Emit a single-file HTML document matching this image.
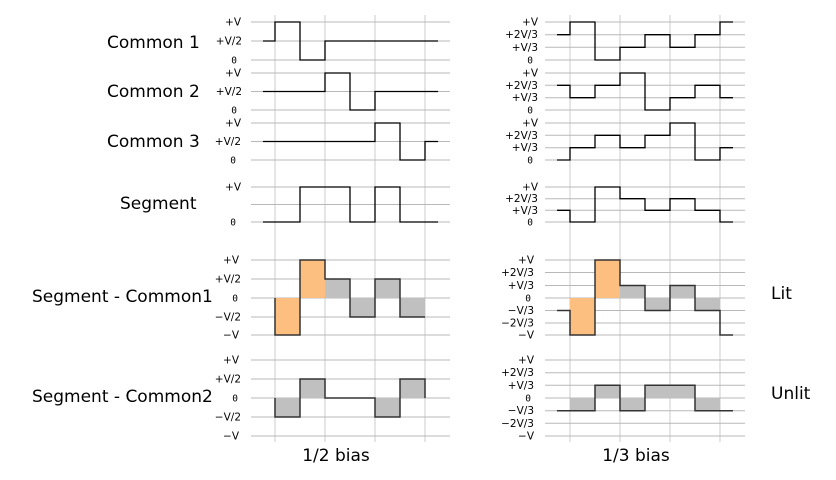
<!DOCTYPE html>
<html><head><meta charset="utf-8"><style>
html,body{margin:0;padding:0;background:#fff;}
svg{display:block;}
.t{font-family:"DejaVu Sans","Liberation Sans",sans-serif;font-size:10.5px;fill:#000;text-anchor:end;}
.z{font-family:"DejaVu Sans Mono","Liberation Mono",monospace;font-size:9.5px;fill:#000;text-anchor:end;}
.big{font-family:"DejaVu Sans","Liberation Sans",sans-serif;font-size:17px;fill:#000;}
.h{stroke:#b8b8b8;stroke-width:1;}
.v{stroke:#d4d4d4;stroke-width:1.2;}
.w{fill:none;stroke:#000;stroke-width:1.3;}
.w2{fill:none;stroke:#333;stroke-width:1.5;}
.o{fill:#fdbf80;}
.g{fill:#c0c0c0;}
</style></head><body>
<svg width="836" height="480" viewBox="0 0 836 480" xmlns="http://www.w3.org/2000/svg">
<g class="v">
<line x1="275" y1="15" x2="275" y2="442"/><line x1="325" y1="15" x2="325" y2="442"/>
<line x1="375" y1="15" x2="375" y2="442"/><line x1="425" y1="15" x2="425" y2="442"/>
<line x1="570" y1="15" x2="570" y2="442"/><line x1="620" y1="15" x2="620" y2="442"/>
<line x1="670" y1="15" x2="670" y2="442"/><line x1="720" y1="15" x2="720" y2="442"/>
</g>
<g class="h">
<line x1="251" x2="450" y1="22" y2="22"/><line x1="251" x2="450" y1="41" y2="41"/><line x1="251" x2="450" y1="60" y2="60"/>
<line x1="251" x2="450" y1="73" y2="73"/><line x1="251" x2="450" y1="91.5" y2="91.5"/><line x1="251" x2="450" y1="110" y2="110"/>
<line x1="251" x2="450" y1="123" y2="123"/><line x1="251" x2="450" y1="141.5" y2="141.5"/><line x1="251" x2="450" y1="160" y2="160"/>
<line x1="251" x2="450" y1="187" y2="187"/><line x1="251" x2="450" y1="204.5" y2="204.5"/><line x1="251" x2="450" y1="222" y2="222"/>
<line x1="251" x2="450" y1="260" y2="260"/><line x1="251" x2="450" y1="279" y2="279"/><line x1="251" x2="450" y1="298" y2="298"/><line x1="251" x2="450" y1="317" y2="317"/><line x1="251" x2="450" y1="335" y2="335"/>
<line x1="251" x2="450" y1="360" y2="360"/><line x1="251" x2="450" y1="379" y2="379"/><line x1="251" x2="450" y1="398" y2="398"/><line x1="251" x2="450" y1="417" y2="417"/><line x1="251" x2="450" y1="436" y2="436"/>
<line x1="545" x2="745" y1="22" y2="22"/><line x1="545" x2="745" y1="34.7" y2="34.7"/><line x1="545" x2="745" y1="47.3" y2="47.3"/><line x1="545" x2="745" y1="60" y2="60"/>
<line x1="545" x2="745" y1="73" y2="73"/><line x1="545" x2="745" y1="85.3" y2="85.3"/><line x1="545" x2="745" y1="97.7" y2="97.7"/><line x1="545" x2="745" y1="110" y2="110"/>
<line x1="545" x2="745" y1="123" y2="123"/><line x1="545" x2="745" y1="135.3" y2="135.3"/><line x1="545" x2="745" y1="147.7" y2="147.7"/><line x1="545" x2="745" y1="160" y2="160"/>
<line x1="545" x2="745" y1="187" y2="187"/><line x1="545" x2="745" y1="198.7" y2="198.7"/><line x1="545" x2="745" y1="210.3" y2="210.3"/><line x1="545" x2="745" y1="222" y2="222"/>
<line x1="545" x2="745" y1="260" y2="260"/><line x1="545" x2="745" y1="272.5" y2="272.5"/><line x1="545" x2="745" y1="285.5" y2="285.5"/><line x1="545" x2="745" y1="298" y2="298"/><line x1="545" x2="745" y1="310.5" y2="310.5"/><line x1="545" x2="745" y1="323" y2="323"/><line x1="545" x2="745" y1="335" y2="335"/>
<line x1="545" x2="745" y1="360" y2="360"/><line x1="545" x2="745" y1="372.7" y2="372.7"/><line x1="545" x2="745" y1="385.3" y2="385.3"/><line x1="545" x2="745" y1="398" y2="398"/><line x1="545" x2="745" y1="410.7" y2="410.7"/><line x1="545" x2="745" y1="423.3" y2="423.3"/><line x1="545" x2="745" y1="436" y2="436"/>
</g>
<rect class="o" x="275" y="298" width="25" height="37"/><rect class="o" x="300" y="260" width="25" height="38"/>
<rect class="g" x="325" y="279" width="25" height="19"/><rect class="g" x="350" y="298" width="25" height="19"/>
<rect class="g" x="375" y="279" width="25" height="19"/><rect class="g" x="400" y="298" width="25" height="19"/>
<rect class="g" x="275" y="398" width="25" height="19"/><rect class="g" x="300" y="379" width="25" height="19"/>
<rect class="g" x="375" y="398" width="25" height="19"/><rect class="g" x="400" y="379" width="25" height="19"/>
<rect class="o" x="570" y="298" width="25" height="37"/><rect class="o" x="595" y="260" width="25" height="38"/>
<rect class="g" x="620" y="285.5" width="25" height="12.5"/><rect class="g" x="645" y="298" width="25" height="12.5"/>
<rect class="g" x="670" y="285.5" width="25" height="12.5"/><rect class="g" x="695" y="298" width="25" height="12.5"/>
<rect class="g" x="570" y="398" width="25" height="12.7"/><rect class="g" x="595" y="385.3" width="25" height="12.7"/>
<rect class="g" x="620" y="398" width="25" height="12.7"/><rect class="g" x="645" y="385.3" width="50" height="12.7"/>
<rect class="g" x="695" y="398" width="25" height="12.7"/>
<path class="w" d="M263,41 H275 V22 H300 V60 H325 V41 H438"/>
<path class="w" d="M263,91.5 H325 V73 H350 V110 H375 V91.5 H438"/>
<path class="w" d="M263,141.5 H375 V123 H400 V160 H425 V141.5 H438"/>
<path class="w" d="M263,222 H300 V187 H350 V222 H375 V187 H400 V222 H438"/>
<path class="w2" d="M275,298 V335 H300 V260 H325 V279 H350 V317 H375 V279 H400 V317 H425"/>
<path class="w2" d="M275,398 V417 H300 V379 H325 V398 H375 V417 H400 V379 H425 V398"/>
<path class="w" d="M557,34.7 H570 V22 H595 V60 H620 V47.3 H645 V34.7 H670 V47.3 H695 V34.7 H720 V22 H733"/>
<path class="w" d="M557,85.3 H570 V97.7 H595 V85.3 H620 V73 H645 V110 H670 V97.7 H695 V85.3 H720 V97.7 H733"/>
<path class="w" d="M557,160 H570 V147.7 H595 V135.3 H620 V147.7 H645 V135.3 H670 V123 H695 V160 H720 V147.7 H733"/>
<path class="w" d="M557,210.3 H570 V222 H595 V187 H620 V198.7 H645 V210.3 H670 V198.7 H695 V210.3 H720 V222 H733"/>
<path class="w2" d="M557,310.5 H570 V335 H595 V260 H620 V285.5 H645 V310.5 H670 V285.5 H695 V310.5 H720 V335 H733"/>
<path class="w2" d="M557,410.7 H595 V385.3 H620 V410.7 H645 V385.3 H695 V410.7 H733"/>
<text class="t" x="241" y="25.5">+V</text><text class="t" x="242" y="44.5">+V/2</text><text class="z" x="237" y="63.5">0</text>
<text class="t" x="241" y="76.5">+V</text><text class="t" x="242" y="95">+V/2</text><text class="z" x="237" y="113.5">0</text>
<text class="t" x="241" y="126.5">+V</text><text class="t" x="241" y="145">+V/2</text><text class="z" x="236" y="163.5">0</text>
<text class="t" x="241" y="190.5">+V</text><text class="z" x="236" y="225.5">0</text>
<text class="t" x="239" y="263.5">+V</text><text class="t" x="241" y="282.5">+V/2</text><text class="z" x="238" y="301.5">0</text><text class="t" x="241" y="320.5">−V/2</text><text class="t" x="239" y="338.5">−V</text>
<text class="t" x="239" y="363.5">+V</text><text class="t" x="241" y="382.5">+V/2</text><text class="z" x="238" y="401.5">0</text><text class="t" x="241" y="420.5">−V/2</text><text class="t" x="239" y="439.5">−V</text>
<text class="t" x="538" y="25.5">+V</text><text class="t" x="538" y="38">+2V/3</text><text class="t" x="538" y="50.8">+V/3</text><text class="z" x="533" y="63.5">0</text>
<text class="t" x="538" y="76.5">+V</text><text class="t" x="538" y="88.8">+2V/3</text><text class="t" x="538" y="101.2">+V/3</text><text class="z" x="533" y="113.5">0</text>
<text class="t" x="538" y="126.5">+V</text><text class="t" x="538" y="138.8">+2V/3</text><text class="t" x="538" y="151.2">+V/3</text><text class="z" x="533" y="163.5">0</text>
<text class="t" x="538" y="190.5">+V</text><text class="t" x="538" y="202.2">+2V/3</text><text class="t" x="538" y="213.8">+V/3</text><text class="z" x="533" y="225.5">0</text>
<text class="t" x="534" y="263.5">+V</text><text class="t" x="534" y="276">+2V/3</text><text class="t" x="534" y="289">+V/3</text><text class="z" x="531" y="301.5">0</text><text class="t" x="534" y="314">−V/3</text><text class="t" x="534" y="326.5">−2V/3</text><text class="t" x="534" y="338.5">−V</text>
<text class="t" x="534" y="363.5">+V</text><text class="t" x="534" y="376.2">+2V/3</text><text class="t" x="534" y="388.8">+V/3</text><text class="z" x="531" y="401.5">0</text><text class="t" x="534" y="414.2">−V/3</text><text class="t" x="534" y="426.8">−2V/3</text><text class="t" x="534" y="439.5">−V</text>
<text class="big" x="107" y="48">Common 1</text>
<text class="big" x="107" y="97">Common 2</text>
<text class="big" x="107" y="147">Common 3</text>
<text class="big" x="120" y="209">Segment</text>
<text class="big" x="32" y="302">Segment - Common1</text>
<text class="big" x="32" y="402">Segment - Common2</text>
<text class="big" x="771" y="299">Lit</text>
<text class="big" x="771" y="399">Unlit</text>
<text class="big" x="336" y="461" text-anchor="middle">1/2 bias</text>
<text class="big" x="636" y="461" text-anchor="middle">1/3 bias</text>
</svg>
</body></html>
